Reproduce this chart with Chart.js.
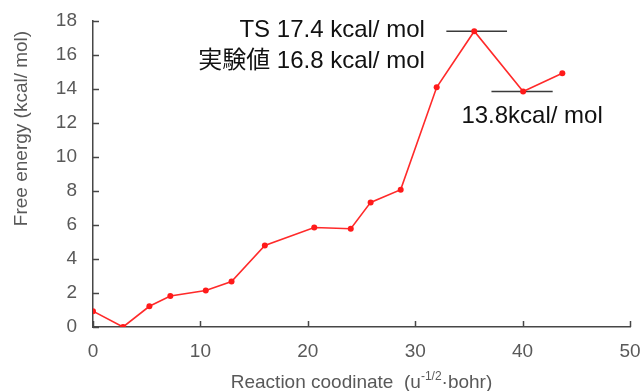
<!DOCTYPE html>
<html>
<head>
<meta charset="utf-8">
<script src="https://cdn.jsdelivr.net/npm/chart.js@4"></script>
<style>
  html, body { margin: 0; padding: 0; background: #ffffff; }
  #wrap { width: 643px; height: 391px; }
</style>
</head>
<body>
<div id="wrap"><canvas id="energyChart" width="643" height="391"></canvas></div>
<script>
// reaction path points
const coordX = [0, 2.8, 5.25, 7.2, 10.5, 12.9, 16.0, 20.6, 24.0, 25.85, 28.65, 32.0, 35.5, 40.05, 43.7];
const energyY = [0.93, 0.0, 1.22, 1.82, 2.15, 2.68, 4.8, 5.85, 5.78, 7.33, 8.08, 14.1, 17.4, 13.85, 14.93];

// horizontal marker bars
const tsBarX = [32.9, 38.55];
const tsBarY = [17.4, 17.4];
const minBarX = [37.1, 42.8];
const minBarY = [13.85, 13.85];

const xTicks = [0, 10, 20, 30, 40, 50];
const yTicks = [0, 2, 4, 6, 8, 10, 12, 14, 16, 18];

const FONT = '"Liberation Sans", Arial, "Noto Sans CJK JP", sans-serif';
const GREY = '#595959';
const AXIS = '#474747';

function pairs(xs, ys) {
  return xs.map((x, i) => ({ x: x, y: ys[i] }));
}

// inward tick marks, annotations and the axis titles
const decorPlugin = {
  id: 'decor',
  afterDraw(chart) {
    const ctx = chart.ctx;
    const xs = chart.scales.x;
    const ys = chart.scales.y;
    const area = chart.chartArea;
    ctx.save();
    ctx.strokeStyle = AXIS;
    ctx.lineWidth = 1.5;
    ctx.beginPath();
    xTicks.forEach(v => {
      const px = Math.round(xs.getPixelForValue(v)) + 0.5;
      ctx.moveTo(px, area.bottom);
      ctx.lineTo(px, area.bottom - 6);
    });
    yTicks.forEach(v => {
      const py = Math.round(ys.getPixelForValue(v)) + 0.5;
      ctx.moveTo(area.left, py);
      ctx.lineTo(area.left + 6, py);
    });
    ctx.stroke();

    // annotations
    ctx.fillStyle = '#111111';
    ctx.font = '24px ' + FONT;
    ctx.textBaseline = 'middle';
    ctx.textAlign = 'right';
    ctx.fillText('TS 17.4 kcal/ mol', xs.getPixelForValue(30.9), ys.getPixelForValue(17.45));
    ctx.fillText('実験値 16.8 kcal/ mol', xs.getPixelForValue(30.9), ys.getPixelForValue(15.63));
    ctx.textAlign = 'left';
    ctx.fillText('13.8kcal/ mol', xs.getPixelForValue(34.3), ys.getPixelForValue(12.39));

    // y axis title (sits above the middle of the axis in the original)
    ctx.fillStyle = GREY;
    ctx.font = '19px ' + FONT;
    ctx.save();
    ctx.translate(22, 128.5);
    ctx.rotate(-Math.PI / 2);
    ctx.textAlign = 'center';
    ctx.textBaseline = 'middle';
    ctx.fillText('Free energy (kcal/ mol)', 0, 0);
    ctx.restore();

    // x axis title: Reaction coodinate  (u^-1/2·bohr)
    ctx.textBaseline = 'alphabetic';
    ctx.textAlign = 'left';
    const mainFont = '19px ' + FONT;
    const supFont = '12px ' + FONT;
    const part1 = 'Reaction coodinate  (u';
    const sup = '-1/2';
    const part2 = '·bohr)';
    ctx.font = mainFont;
    const w1 = ctx.measureText(part1).width;
    const w3 = ctx.measureText(part2).width;
    ctx.font = supFont;
    const w2 = ctx.measureText(sup).width;
    const total = w1 + w2 + w3;
    let x0 = (area.left + area.right) / 2 - total / 2;
    const base = 388;
    ctx.font = mainFont;
    ctx.fillText(part1, x0, base);
    ctx.font = supFont;
    ctx.fillText(sup, x0 + w1, base - 8);
    ctx.font = mainFont;
    ctx.fillText(part2, x0 + w1 + w2, base);
    ctx.restore();
  }
};

new Chart(document.getElementById('energyChart'), {
  type: 'scatter',
  data: {
    datasets: [
      {
        label: 'Free energy',
        data: pairs(coordX, energyY),
        showLine: true,
        borderColor: '#ff2a2a',
        backgroundColor: '#ff1a1a',
        borderWidth: 1.6,
        pointRadius: 3,
        pointBorderWidth: 0,
        order: 1
      },
      {
        label: 'TS bar',
        data: pairs(tsBarX, tsBarY),
        showLine: true,
        borderColor: '#3a3a3a',
        borderWidth: 1.6,
        pointRadius: 0,
        order: 2
      },
      {
        label: 'min bar',
        data: pairs(minBarX, minBarY),
        showLine: true,
        borderColor: '#3a3a3a',
        borderWidth: 1.6,
        pointRadius: 0,
        order: 2
      }
    ]
  },
  options: {
    responsive: false,
    animation: false,
    layout: { padding: { top: 21, right: 13, left: 0, bottom: 0 } },
    plugins: {
      legend: { display: false },
      tooltip: { enabled: false }
    },
    scales: {
      x: {
        type: 'linear',
        min: 0,
        max: 50,
        afterFit: s => {
          s.height = 64;
          s.paddingLeft = 0;
          s.paddingRight = 0;
        },
        afterBuildTicks: s => { s.ticks = xTicks.map(v => ({ value: v })); },
        grid: { display: false, drawTicks: false },
        border: { display: true, color: AXIS, width: 1.5 },
        ticks: { color: GREY, font: { family: FONT, size: 19 }, padding: 13, maxRotation: 0 }
      },
      y: {
        type: 'linear',
        min: 0,
        max: 18,
        afterFit: s => {
          s.width = 93;
          s.paddingTop = 0;
          s.paddingBottom = 0;
        },
        afterBuildTicks: s => { s.ticks = yTicks.map(v => ({ value: v })); },
        grid: { display: false, drawTicks: false },
        border: { display: true, color: AXIS, width: 1.5 },
        ticks: { color: GREY, font: { family: FONT, size: 19 }, padding: 16 }
      }
    }
  },
  plugins: [decorPlugin]
});
</script>
</body>
</html>
